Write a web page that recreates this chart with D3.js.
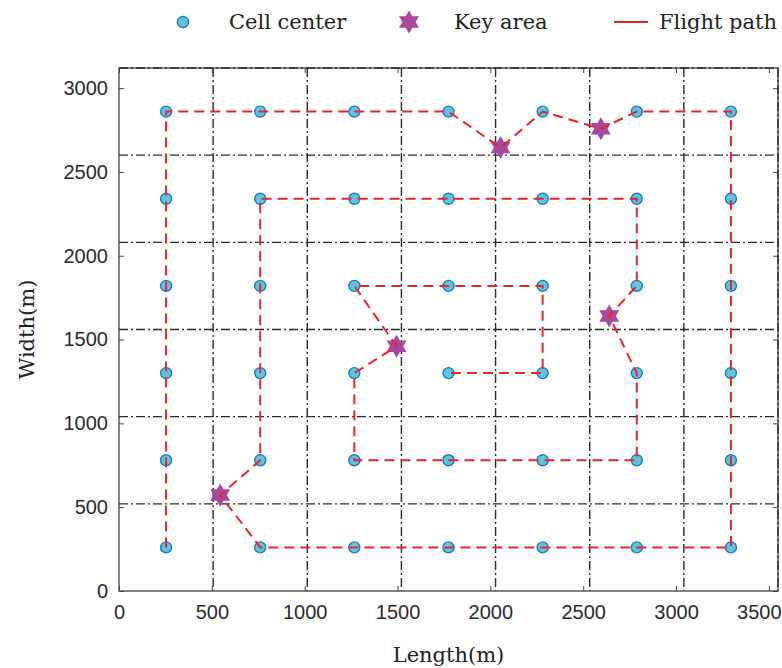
<!DOCTYPE html>
<html><head><meta charset="utf-8">
<script src="https://cdn.jsdelivr.net/npm/d3@7"></script>
<style>
body{margin:0;background:#fff}
.tk{font-family:"Liberation Sans",Arial,sans-serif;font-size:20px;}
.sf{font-family:"DejaVu Serif","Liberation Serif",serif;font-size:21px;}
</style>
</head><body>
<svg id="c" width="782" height="668"></svg>
<script>
// ---- data ----
const cellW = 507, cellH = 520, nCols = 7, nRows = 6;
const xTicks = [0,500,1000,1500,2000,2500,3000,3500];
const yTicks = [0,500,1000,1500,2000,2500,3000];
const colCenters = [253.5,760.5,1267.5,1774.5,2281.5,2788.5,3295.5];
const rowCenters = [260,780,1300,1820,2340,2860];
const keyAreas = [[545,572],[1495,1460],[2640,1640],[2055,2645],[2595,2758]];
// flight path as [col,row] cell indices, or ["k",i] for key area
const pathSeq = [
 [0,0],[0,5],[1,5],[2,5],[3,5],["k",3],[4,5],["k",4],[5,5],[6,5],
 [6,0],[5,0],[4,0],[3,0],[2,0],[1,0],["k",0],[1,1],[1,4],
 [2,4],[3,4],[4,4],[5,4],[5,3],["k",2],[5,2],[5,1],
 [4,1],[3,1],[2,1],[2,2],["k",1],[2,3],[3,3],[4,3],[4,2],[3,2]
];
const xMax = cellW*nCols, yMax = cellH*nRows;

const svg = d3.select("#c");
const W = 782;
const L=119, T=68, R=778, B=591;
const x = d3.scaleLinear().domain([0,xMax]).range([L,R]);
const y = d3.scaleLinear().domain([0,yMax]).range([B,T]);

// frame
svg.append("rect").attr("x",L).attr("y",T).attr("width",R-L).attr("height",B-T)
  .attr("fill","none").attr("stroke","#333").attr("stroke-width",1.2);

// grid dash-dot lines at cell boundaries
const gx = d3.range(1,nCols+1).map(i=>i*cellW);
const gy = d3.range(1,nRows+1).map(j=>j*cellH);
const gridStyle = s=>s.attr("stroke","#2a2a2a").attr("stroke-width",1.4).attr("stroke-dasharray","9,3,2,3");
svg.append("g").selectAll("line").data(gx).join("line")
  .attr("x1",d=>x(d)).attr("x2",d=>x(d)).attr("y1",T).attr("y2",B).call(gridStyle);
svg.append("g").selectAll("line").data(gy).join("line")
  .attr("y1",d=>y(d)).attr("y2",d=>y(d)).attr("x1",L).attr("x2",R).call(gridStyle);

// axes (inward ticks)
const fmt = d3.format("d");
const ax = svg.append("g").attr("transform",`translate(0,${B})`)
  .call(d3.axisBottom(x).tickValues(xTicks).tickFormat(fmt).tickSize(-5).tickPadding(14).tickSizeOuter(0));
const ay = svg.append("g").attr("transform",`translate(${L},0)`)
  .call(d3.axisLeft(y).tickValues(yTicks).tickFormat(fmt).tickSize(-5).tickPadding(11).tickSizeOuter(0));
const at = svg.append("g").attr("transform",`translate(0,${T})`)
  .call(d3.axisTop(x).tickValues(xTicks).tickSize(-5).tickFormat("").tickSizeOuter(0));
const ar = svg.append("g").attr("transform",`translate(${R},0)`)
  .call(d3.axisRight(y).tickValues(yTicks).tickSize(-5).tickFormat("").tickSizeOuter(0));
[ax,ay,at,ar].forEach(g=>{
  g.attr("font-family",null).attr("font-size",null);
  g.select(".domain").remove();
  g.selectAll(".tick line").attr("stroke","#444").attr("stroke-width",1);
  g.selectAll("text").attr("class","tk").attr("fill","#2a2a2a");
});
// keep the last x label inside the page
ax.selectAll(".tick text").each(function(d){
  const w = this.getComputedTextLength();
  const over = x(d) + w/2 - (W-1);
  if(over>0) d3.select(this).attr("dx",-over);
});

// cell centers
const cells = [];
rowCenters.forEach(ry=>colCenters.forEach(cx=>cells.push([cx,ry])));
svg.append("g").selectAll("circle").data(cells).join("circle")
  .attr("cx",d=>x(d[0])).attr("cy",d=>y(d[1])).attr("r",5.5)
  .attr("fill","#5cc6df").attr("stroke","#1c7cc0").attr("stroke-width",1.4);

// stars
function hexagram(cx,cy,ro){
  const ri = ro/Math.sqrt(3), pts=[];
  for(let k=0;k<12;k++){
    const a = -Math.PI/2 + k*Math.PI/6, r = k%2===0?ro:ri;
    pts.push([cx+r*Math.cos(a), cy+r*Math.sin(a)]);
  }
  return "M"+pts.map(p=>p.join(",")).join("L")+"Z";
}
svg.append("g").selectAll("path").data(keyAreas).join("path")
  .attr("d",d=>hexagram(x(d[0]),y(d[1]),11.5))
  .attr("fill","#a8479f");

// flight path
const pathPts = pathSeq.map(p=> p[0]==="k" ? keyAreas[p[1]] : [colCenters[p[0]], rowCenters[p[1]]]);
svg.append("path").datum(pathPts)
  .attr("d",d3.line().x(d=>x(d[0])).y(d=>y(d[1])))
  .attr("fill","none").attr("stroke","#e8242b").attr("stroke-width",2)
  .attr("stroke-dasharray","10,6");

// axis titles
svg.append("text").attr("class","sf").attr("x",(L+R)/2).attr("y",662).attr("text-anchor","middle")
  .attr("fill","#222").text("Length(m)");
svg.append("text").attr("class","sf").attr("transform",`translate(34,${(T+B)/2}) rotate(-90)`).attr("text-anchor","middle")
  .attr("fill","#222").text("Width(m)");

// legend
const lg = svg.append("g");
lg.append("circle").attr("cx",183).attr("cy",22).attr("r",5.5)
  .attr("fill","#5cc6df").attr("stroke","#1c7cc0").attr("stroke-width",1.4);
lg.append("text").attr("class","sf").attr("x",229).attr("y",29).attr("fill","#222").text("Cell center");
lg.append("path").attr("d",hexagram(409,22,11.5)).attr("fill","#a8479f");
lg.append("text").attr("class","sf").attr("x",454).attr("y",29).attr("fill","#222").text("Key area");
lg.append("line").attr("x1",614).attr("x2",648).attr("y1",22).attr("y2",22).attr("stroke","#e8242b").attr("stroke-width",2);
lg.append("text").attr("class","sf").attr("x",659).attr("y",29).attr("fill","#222").text("Flight path");
</script>
</body></html>
